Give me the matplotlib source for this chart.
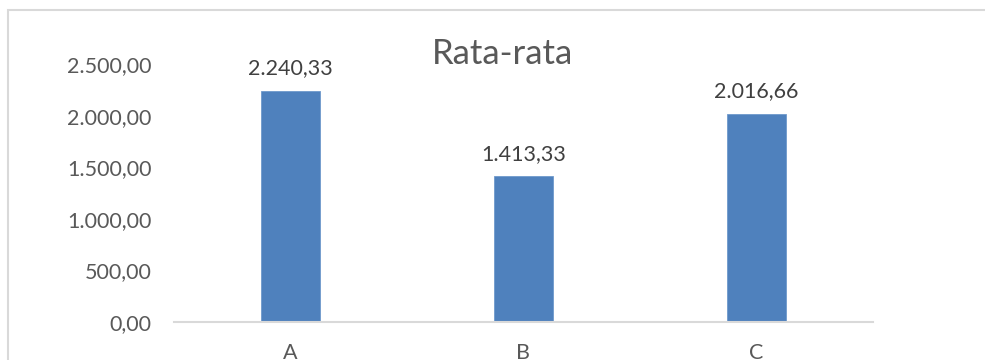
import matplotlib.pyplot as plt
from matplotlib.patches import Rectangle
from matplotlib.ticker import FuncFormatter

plt.rcParams['font.family'] = ['Lato', 'DejaVu Sans']

categories = ['A', 'B', 'C']
rata_rata = [2240.33, 1413.33, 2016.66]
y_ticks = [0, 500, 1000, 1500, 2000, 2500]


def fmt_id(v, pos=None):
    # format angka gaya Indonesia: 2.500,00
    s = f'{v:,.2f}'
    return s.replace(',', '#').replace('.', ',').replace('#', '.')


fig = plt.figure(figsize=(9.85, 3.6), dpi=100)
ax = fig.add_axes([174 / 985, 1 - 322 / 360, 699 / 985, 258 / 360])

# bingkai chart (terpotong di kanan dan bawah)
fig.patches.append(Rectangle((8 / 985, -0.1), 1.2, 1 - 10 / 360 + 0.1,
                             transform=fig.transFigure, fill=False,
                             edgecolor='#d9d9d9', linewidth=1.5))

x = range(len(categories))
bars = ax.bar(x, rata_rata, width=0.25, color='#4f81bd', edgecolor='#6f99cc', linewidth=0.6)

for xi, v in zip(x, rata_rata):
    ax.annotate(fmt_id(v), (xi, v), xytext=(0, 9), textcoords='offset points',
                ha='center', va='bottom', fontsize=15.5, color='#404040')

ax.set_xlim(-0.5, 2.5)
ax.set_ylim(0, 2500)
ax.set_xticks(list(x))
ax.set_xticklabels(categories)
ax.set_yticks(y_ticks)
ax.yaxis.set_major_formatter(FuncFormatter(fmt_id))
ax.tick_params(axis='y', length=0, pad=16, labelsize=15.5, labelcolor='#595959')
ax.tick_params(axis='x', length=0, pad=15, labelsize=15.5, labelcolor='#595959')

for side in ['top', 'right', 'left']:
    ax.spines[side].set_visible(False)
ax.spines['bottom'].set_color('#d9d9d9')
ax.spines['bottom'].set_linewidth(1.5)

fig.text(503 / 985, 1 - 54 / 360, 'Rata-rata', ha='center', va='center',
         fontsize=25, color='#595959')

fig.savefig('out.png', dpi=100)
